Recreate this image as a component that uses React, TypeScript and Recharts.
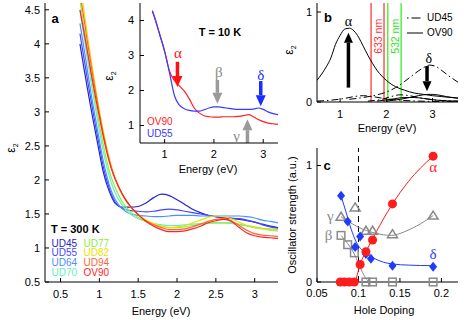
import React from 'react';
import {
  LineChart, ComposedChart, Line, Scatter, XAxis, YAxis,
  ReferenceLine, ReferenceDot, CartesianGrid,
} from 'recharts';

const FONT = '"Liberation Sans", Arial, Helvetica, sans-serif';
const SERIF = '"Liberation Serif", "DejaVu Serif", serif';

// ---------- Panel a : T = 300 K ----------
const energyA = [0.75, 0.8, 0.85, 0.9, 0.95, 1.0, 1.05, 1.1, 1.15, 1.2, 1.3, 1.4, 1.5, 1.6, 1.7, 1.8, 1.9, 2.0, 2.1, 2.2, 2.3, 2.4, 2.5, 2.6, 2.7, 2.8, 2.9, 3.0, 3.1, 3.2, 3.3];
const ud45 = [4.0, 3.65, 3.32, 3.0, 2.7, 2.4, 2.12, 1.92, 1.77, 1.66, 1.6, 1.6, 1.61, 1.66, 1.74, 1.79, 1.77, 1.71, 1.64, 1.57, 1.52, 1.48, 1.46, 1.44, 1.43, 1.42, 1.4, 1.38, 1.35, 1.32, 1.3];
const ud55 = [4.15, 3.8, 3.45, 3.12, 2.8, 2.5, 2.2, 1.98, 1.8, 1.68, 1.58, 1.55, 1.54, 1.53, 1.54, 1.56, 1.57, 1.56, 1.54, 1.52, 1.5, 1.48, 1.46, 1.45, 1.44, 1.43, 1.41, 1.38, 1.34, 1.31, 1.29];
const ud64 = [4.3, 3.95, 3.58, 3.22, 2.9, 2.58, 2.28, 2.04, 1.85, 1.72, 1.57, 1.5, 1.48, 1.47, 1.46, 1.46, 1.47, 1.48, 1.48, 1.48, 1.47, 1.47, 1.47, 1.47, 1.47, 1.47, 1.46, 1.44, 1.41, 1.39, 1.37];
const ud70 = [4.5, 4.12, 3.75, 3.38, 3.05, 2.72, 2.42, 2.17, 1.97, 1.82, 1.62, 1.5, 1.43, 1.39, 1.36, 1.34, 1.33, 1.33, 1.34, 1.35, 1.36, 1.37, 1.37, 1.37, 1.36, 1.34, 1.32, 1.3, 1.28, 1.26, 1.25];
const ud77 = [4.65, 4.25, 3.87, 3.5, 3.15, 2.82, 2.52, 2.26, 2.05, 1.9, 1.67, 1.53, 1.45, 1.39, 1.35, 1.32, 1.3, 1.3, 1.31, 1.33, 1.35, 1.36, 1.37, 1.37, 1.37, 1.35, 1.33, 1.31, 1.29, 1.28, 1.27];
const ud82 = [4.9, 4.5, 4.1, 3.72, 3.36, 3.02, 2.72, 2.45, 2.22, 2.04, 1.78, 1.6, 1.49, 1.41, 1.36, 1.32, 1.3, 1.31, 1.33, 1.37, 1.41, 1.45, 1.47, 1.46, 1.43, 1.38, 1.33, 1.3, 1.28, 1.27, 1.26];
const ud94 = [4.75, 4.38, 4.0, 3.64, 3.3, 2.98, 2.68, 2.42, 2.2, 2.03, 1.78, 1.61, 1.49, 1.4, 1.34, 1.3, 1.27, 1.27, 1.28, 1.31, 1.35, 1.39, 1.42, 1.43, 1.4, 1.33, 1.26, 1.21, 1.19, 1.18, 1.17];
const ov90 = [4.5, 4.18, 3.86, 3.53, 3.22, 2.93, 2.64, 2.39, 2.18, 2.02, 1.78, 1.61, 1.49, 1.39, 1.32, 1.27, 1.24, 1.24, 1.25, 1.28, 1.32, 1.37, 1.4, 1.42, 1.39, 1.3, 1.22, 1.18, 1.16, 1.15, 1.14];
const samplesA = [
  { key: 'UD45', values: ud45, color: '#2323cc' },
  { key: 'UD55', values: ud55, color: '#4646ff' },
  { key: 'UD64', values: ud64, color: '#4a90ff' },
  { key: 'UD70', values: ud70, color: '#66efc4' },
  { key: 'UD77', values: ud77, color: '#8cee44' },
  { key: 'UD82', values: ud82, color: '#eee000' },
  { key: 'UD94', values: ud94, color: '#ff6636' },
  { key: 'OV90', values: ov90, color: '#ff2424' },
];
const rowsA = energyA.map((x, i) => {
  const r: any = { x };
  samplesA.forEach((s) => { r[s.key] = s.values[i]; });
  return r;
});
const ticksAx = [0.5, 1, 1.5, 2, 2.5, 3];
const ticksAy = [0.5, 1, 1.5, 2, 2.5, 3, 3.5, 4, 4.5];

// ---------- Inset : T = 10 K ----------
const energyI = [0.75, 0.8, 0.9, 1.0, 1.1, 1.2, 1.3, 1.4, 1.5, 1.6, 1.7, 1.8, 1.9, 2.0, 2.1, 2.2, 2.3, 2.4, 2.5, 2.6, 2.7, 2.8, 2.9, 3.0, 3.1, 3.2, 3.3];
const ud55Cold = [4.28, 4.07, 3.6, 3.12, 2.5, 1.85, 1.58, 1.48, 1.43, 1.41, 1.41, 1.45, 1.5, 1.53, 1.53, 1.51, 1.49, 1.47, 1.46, 1.46, 1.46, 1.47, 1.5, 1.46, 1.39, 1.34, 1.31];
const ov90Cold = [4.28, 4.07, 3.6, 3.12, 2.55, 2.28, 2.13, 1.98, 1.76, 1.5, 1.36, 1.28, 1.25, 1.24, 1.24, 1.25, 1.25, 1.25, 1.26, 1.28, 1.31, 1.25, 1.17, 1.11, 1.07, 1.05, 1.03];
const rowsI = energyI.map((x, i) => ({ x, UD55: ud55Cold[i], OV90: ov90Cold[i] }));

// ---------- Panel b : oscillators ----------
const ov90AlphaX = [0.5, 0.6, 0.7, 0.8, 0.9, 1.0, 1.1, 1.2, 1.3, 1.4, 1.5, 1.6, 1.7, 1.8, 1.9, 2.0, 2.2, 2.4, 2.6, 2.8, 3.0, 3.2, 3.4, 3.55];
const ov90AlphaY = [0.24, 0.31, 0.39, 0.49, 0.64, 0.74, 0.81, 0.82, 0.79, 0.72, 0.62, 0.52, 0.43, 0.35, 0.29, 0.24, 0.17, 0.13, 0.1, 0.085, 0.07, 0.06, 0.05, 0.045];
const ov90GammaX = [1.8, 2.1, 2.4, 2.6, 2.8, 3.1, 3.55];
const ov90GammaY = [0.01, 0.03, 0.05, 0.05, 0.04, 0.02, 0.01];
const ov90DeltaX = [2.0, 2.3, 2.6, 2.8, 2.95, 3.1, 3.3, 3.55];
const ov90DeltaY = [0.01, 0.03, 0.06, 0.08, 0.085, 0.08, 0.06, 0.04];
const ud45BetaX = [0.5, 0.8, 1.1, 1.3, 1.5, 1.7, 2.0, 2.3, 2.7, 3.2, 3.55];
const ud45BetaY = [0.01, 0.02, 0.04, 0.06, 0.07, 0.06, 0.035, 0.02, 0.01, 0.005, 0.003];
const ud45GammaX = [1.6, 1.9, 2.1, 2.3, 2.5, 2.8, 3.1, 3.55];
const ud45GammaY = [0.01, 0.03, 0.06, 0.08, 0.07, 0.04, 0.02, 0.01];
const ud45DeltaX = [1.2, 1.5, 1.8, 2.0, 2.2, 2.4, 2.6, 2.8, 2.93, 3.05, 3.2, 3.35, 3.55];
const ud45DeltaY = [0.03, 0.05, 0.08, 0.11, 0.16, 0.23, 0.31, 0.38, 0.41, 0.4, 0.35, 0.29, 0.22];
const laserLines = [
  { e: 1.67, color: '#ff5555' },
  { e: 1.95, color: '#ff5555' },
  { e: 2.03, color: '#55f040' },
  { e: 2.32, color: '#55f040' },
];

// ---------- Panel c : oscillator strength vs hole doping ----------
const alphaP = [0.078, 0.083, 0.089, 0.095, 0.102, 0.109, 0.117, 0.141, 0.19];
const alphaS = [0, 0, 0, 0, 0.15, 0.26, 0.36, 0.67, 1.08];
const deltaP = [0.079, 0.087, 0.096, 0.102, 0.109, 0.115, 0.141, 0.19];
const deltaS = [0.74, 0.52, 0.3, 0.39, 0.24, 0.2, 0.14, 0.13];
const gammaP = [0.079, 0.096, 0.109, 0.117, 0.141, 0.19];
const gammaS = [0.56, 0.64, 0.44, 0.44, 0.41, 0.57];
const betaP = [0.079, 0.087, 0.095, 0.109, 0.117, 0.141, 0.19];
const betaS = [0.4, 0.32, 0.25, 0, 0, 0, 0];
const alphaFitP = [0.078, 0.095, 0.1, 0.102, 0.109, 0.117, 0.13, 0.141, 0.16, 0.175, 0.19];
const alphaFitS = [0, 0, 0.1, 0.15, 0.26, 0.37, 0.54, 0.67, 0.86, 0.98, 1.08];
const deltaFitP = [0.079, 0.085, 0.09, 0.095, 0.1, 0.105, 0.11, 0.117, 0.13, 0.141, 0.16, 0.19];
const deltaFitS = [0.74, 0.6, 0.48, 0.38, 0.31, 0.27, 0.24, 0.21, 0.17, 0.155, 0.145, 0.14];
const gammaFitP = [0.079, 0.09, 0.1, 0.11, 0.12, 0.13, 0.14, 0.155, 0.17, 0.19];
const gammaFitS = [0.56, 0.51, 0.47, 0.44, 0.42, 0.405, 0.4, 0.43, 0.48, 0.57];
const betaFitP = [0.079, 0.087, 0.095, 0.1, 0.105, 0.11, 0.113];
const betaFitS = [0.4, 0.33, 0.24, 0.16, 0.08, 0.02, 0];

const pts = (xs: number[], ys: number[]) => xs.map((x, i) => ({ x, y: ys[i] }));

const tickStyle = { fill: '#000', fontSize: 11, fontFamily: FONT };
const black = { stroke: '#000' };

const arrowShape = (color: string, w: number, headL: number, headW: number) => (p: any) => {
  const { x1, y1, x2, y2 } = p;
  const dir = Math.sign(y2 - y1) || 1;
  const yb = y2 - dir * headL;
  return (
    <g>
      <line x1={x1} y1={y1} x2={x2} y2={yb} stroke={color} strokeWidth={w} />
      <polygon points={`${x2 - headW / 2},${yb} ${x2 + headW / 2},${yb} ${x2},${y2}`} fill={color} />
    </g>
  );
};

const textShape = (txt: string, color: string, size: number, family = SERIF, rotate = 0) => (p: any) => (
  <text
    x={p.cx}
    y={p.cy}
    fill={color}
    fontSize={size}
    fontFamily={family}
    textAnchor="middle"
    dominantBaseline="central"
    transform={rotate ? `rotate(${rotate} ${p.cx} ${p.cy})` : undefined}
  >
    {txt}
  </text>
);

const circleShape = (p: any) => <circle cx={p.cx} cy={p.cy} r={4.5} fill="#ff1c1c" />;
const diamondShape = (p: any) => (
  <polygon points={`${p.cx},${p.cy - 5} ${p.cx + 4},${p.cy} ${p.cx},${p.cy + 5} ${p.cx - 4},${p.cy}`} fill="#1e3cff" />
);
const triShape = (p: any) => (
  <polygon points={`${p.cx},${p.cy - 4.5} ${p.cx + 5},${p.cy + 3.5} ${p.cx - 5},${p.cy + 3.5}`} fill="none" stroke="#8a8a8a" strokeWidth={1.5} />
);
const sqShape = (p: any) => (
  <rect x={p.cx - 3.8} y={p.cy - 3.8} width={7.6} height={7.6} fill="none" stroke="#8a8a8a" strokeWidth={1.5} />
);

const Txt = ({ x, y, children, size = 11, color = '#000', bold = false, rotate = 0, anchor = 'middle', family = FONT }: any) => (
  <div
    style={{
      position: 'absolute', left: x, top: y,
      transform: `translate(${anchor === 'middle' ? '-50%' : anchor === 'start' ? '0' : '-100%'},-50%) rotate(${rotate}deg)`,
      fontSize: size, color, fontWeight: bold ? 'bold' : 'normal', fontFamily: family,
      whiteSpace: 'nowrap', lineHeight: 1,
    }}
  >
    {children}
  </div>
);

const Eps = () => (<span>ε<sub style={{ fontSize: 7, verticalAlign: 'sub' }}>2</sub></span>);

export default function App() {
  return (
    <div style={{ position: 'absolute', left: 0, top: 0, width: 467, height: 320, background: '#fff', overflow: 'hidden', fontFamily: FONT }}>
      {/* Panel a */}
      <div style={{ position: 'absolute', left: 0, top: 0 }}>
        <LineChart width={290} height={320} data={rowsA} margin={{ top: 3, right: 12, bottom: 8, left: 5 }}>
          <XAxis dataKey="x" type="number" domain={[0.3, 3.3]} ticks={ticksAx} interval={0} allowDataOverflow height={30}
            tickSize={-4} tickMargin={12} tick={tickStyle} axisLine={black} tickLine={black} />
          <XAxis xAxisId="top" orientation="top" dataKey="x" type="number" domain={[0.3, 3.3]} ticks={ticksAx} interval={0} allowDataOverflow height={0}
            tickSize={-4} tick={false} axisLine={black} tickLine={black} />
          <YAxis type="number" domain={[0.5, 4.6]} ticks={ticksAy} interval={0} allowDataOverflow width={40}
            tickSize={-4} tickMargin={9} tick={tickStyle} axisLine={black} tickLine={black} />
          <YAxis yAxisId="right" orientation="right" type="number" domain={[0.5, 4.6]} ticks={ticksAy} interval={0} allowDataOverflow width={0}
            tickSize={-4} tick={false} axisLine={black} tickLine={black} />
          {samplesA.map((s) => (
            <Line key={s.key} dataKey={s.key} type="monotone" stroke={s.color} strokeWidth={1.2} dot={false} isAnimationActive={false} />
          ))}
        </LineChart>
      </div>

      {/* Inset of panel a */}
      <div style={{ position: 'absolute', left: 0, top: 0 }}>
        <LineChart width={290} height={180} data={rowsI} margin={{ top: 3, right: 12, bottom: 7, left: 100 }}>
          <CartesianGrid horizontal={false} vertical={false} fill="#fff" />
          <XAxis dataKey="x" type="number" domain={[0.5, 3.3]} ticks={[1, 2, 3]} interval={0} allowDataOverflow height={30}
            tickSize={-4} tickMargin={11} tick={tickStyle} axisLine={black} tickLine={black} />
          <XAxis xAxisId="top" orientation="top" dataKey="x" type="number" domain={[0.5, 3.3]} ticks={[1, 2, 3]} interval={0} allowDataOverflow height={0}
            tickSize={-4} tick={false} axisLine={black} tickLine={black} />
          <YAxis type="number" domain={[0.5, 4.5]} ticks={[1, 2, 3, 4]} interval={0} allowDataOverflow width={40}
            tickSize={-4} tickMargin={10} tick={tickStyle} axisLine={black} tickLine={black} />
          <YAxis yAxisId="right" orientation="right" type="number" domain={[0.5, 4.5]} ticks={[1, 2, 3, 4]} interval={0} allowDataOverflow width={0}
            tickSize={-4} tick={false} axisLine={black} tickLine={black} />
          <Line dataKey="OV90" type="monotone" stroke="#ff2020" strokeWidth={1.2} dot={false} isAnimationActive={false} />
          <Line dataKey="UD55" type="monotone" stroke="#3a3aff" strokeWidth={1.2} dot={false} isAnimationActive={false} />
          <ReferenceLine segment={[{ x: 1.26, y: 2.82 }, { x: 1.26, y: 2.1 }]} ifOverflow="visible" shape={arrowShape('#ff1010', 3.5, 11, 10)} />
          <ReferenceLine segment={[{ x: 2.07, y: 2.3 }, { x: 2.07, y: 1.62 }]} ifOverflow="visible" shape={arrowShape('#9a9a9a', 3.5, 11, 10)} />
          <ReferenceLine segment={[{ x: 2.95, y: 2.27 }, { x: 2.95, y: 1.55 }]} ifOverflow="visible" shape={arrowShape('#1a2cff', 3.5, 11, 10)} />
          <ReferenceLine segment={[{ x: 2.68, y: 0.5 }, { x: 2.68, y: 1.18 }]} ifOverflow="visible" shape={arrowShape('#9a9a9a', 3.5, 11, 10)} />
          <ReferenceDot x={1.27} y={3.06} r={0} ifOverflow="visible" shape={textShape('α', '#ff1010', 15)} />
          <ReferenceDot x={2.1} y={2.54} r={0} ifOverflow="visible" shape={textShape('β', '#8a8a8a', 15)} />
          <ReferenceDot x={2.95} y={2.44} r={0} ifOverflow="visible" shape={textShape('δ', '#1a2cff', 15)} />
          <ReferenceDot x={2.46} y={0.7} r={0} ifOverflow="visible" shape={textShape('γ', '#8a8a8a', 15)} />
        </LineChart>
      </div>

      {/* Panel b */}
      <div style={{ position: 'absolute', left: 290, top: 0 }}>
        <LineChart width={177} height={140} margin={{ top: 3, right: 9, bottom: 13, left: 7 }}>
          <XAxis dataKey="x" type="number" domain={[0.5, 3.55]} ticks={[1, 2, 3]} interval={0} allowDataOverflow height={25}
            tickSize={-4} tickMargin={12} tick={tickStyle} axisLine={black} tickLine={black} />
          <XAxis xAxisId="top" orientation="top" dataKey="x" type="number" domain={[0.5, 3.55]} ticks={[1, 2, 3]} interval={0} allowDataOverflow height={0}
            tickSize={-4} tick={false} axisLine={black} tickLine={black} />
          <YAxis dataKey="y" type="number" domain={[0, 1.1]} ticks={[0, 1]} interval={0} allowDataOverflow width={20}
            tickSize={-4} tickMargin={9} tick={tickStyle} axisLine={black} tickLine={black} />
          <YAxis yAxisId="right" orientation="right" type="number" domain={[0, 1.1]} ticks={[0, 1]} interval={0} allowDataOverflow width={0}
            tickSize={-4} tick={false} axisLine={black} tickLine={black} />
          {laserLines.map((l) => (
            <ReferenceLine key={l.e} x={l.e} stroke={l.color} strokeWidth={1.5} />
          ))}
          <Line data={pts(ov90AlphaX, ov90AlphaY)} dataKey="y" type="monotone" stroke="#000" strokeWidth={1} dot={false} isAnimationActive={false} />
          <Line data={pts(ov90GammaX, ov90GammaY)} dataKey="y" type="monotone" stroke="#000" strokeWidth={1} dot={false} isAnimationActive={false} />
          <Line data={pts(ov90DeltaX, ov90DeltaY)} dataKey="y" type="monotone" stroke="#000" strokeWidth={1} dot={false} isAnimationActive={false} />
          <Line data={pts(ud45BetaX, ud45BetaY)} dataKey="y" type="monotone" stroke="#000" strokeWidth={1} strokeDasharray="7 3 1.5 3" dot={false} isAnimationActive={false} />
          <Line data={pts(ud45GammaX, ud45GammaY)} dataKey="y" type="monotone" stroke="#000" strokeWidth={1} strokeDasharray="7 3 1.5 3" dot={false} isAnimationActive={false} />
          <Line data={pts(ud45DeltaX, ud45DeltaY)} dataKey="y" type="monotone" stroke="#000" strokeWidth={1} strokeDasharray="7 3 1.5 3" dot={false} isAnimationActive={false} />
          <ReferenceLine segment={[{ x: 1.18, y: 0.16 }, { x: 1.18, y: 0.77 }]} ifOverflow="visible" shape={arrowShape('#000', 3.5, 10, 9)} />
          <ReferenceLine segment={[{ x: 2.88, y: 0.4 }, { x: 2.88, y: 0.12 }]} ifOverflow="visible" shape={arrowShape('#000', 3.5, 10, 9)} />
          <ReferenceDot x={1.18} y={0.9} r={0} ifOverflow="visible" shape={textShape('α', '#000', 14)} />
          <ReferenceDot x={2.92} y={0.48} r={0} ifOverflow="visible" shape={textShape('δ', '#000', 14)} />
          <ReferenceDot x={1.81} y={0.73} r={0} ifOverflow="visible" shape={textShape('633 nm', '#ff3030', 10.5, FONT, -90)} />
          <ReferenceDot x={2.19} y={0.73} r={0} ifOverflow="visible" shape={textShape('532 nm', '#33dd22', 10.5, FONT, -90)} />
        </LineChart>
      </div>

      {/* Panel c */}
      <div style={{ position: 'absolute', left: 290, top: 140 }}>
        <ComposedChart width={177} height={180} margin={{ top: 8, right: 9, bottom: 13, left: 7 }}>
          <XAxis dataKey="x" type="number" domain={[0.05, 0.22]} ticks={[0.05, 0.1, 0.15, 0.2]} interval={0} height={25}
            tickSize={-4} tickMargin={11} tick={tickStyle} axisLine={black} tickLine={black} />
          <XAxis xAxisId="top" orientation="top" dataKey="x" type="number" domain={[0.05, 0.22]} ticks={[0.05, 0.1, 0.15, 0.2]} interval={0} height={0}
            tickSize={-4} tick={false} axisLine={black} tickLine={black} />
          <YAxis dataKey="y" type="number" domain={[0, 1.15]} ticks={[0, 1]} interval={0} width={20}
            tickSize={-4} tickMargin={9} tick={tickStyle} axisLine={black} tickLine={black} />
          <YAxis yAxisId="right" orientation="right" type="number" domain={[0, 1.15]} ticks={[0, 1]} interval={0} width={0}
            tickSize={-4} tick={false} axisLine={black} tickLine={black} />
          <ReferenceLine x={0.1} stroke="#000" strokeWidth={1} strokeDasharray="6 4" />
          <Line data={pts(gammaFitP, gammaFitS)} dataKey="y" type="monotone" stroke="#8a8a8a" strokeWidth={1} dot={false} isAnimationActive={false} />
          <Line data={pts(betaFitP, betaFitS)} dataKey="y" type="monotone" stroke="#8a8a8a" strokeWidth={1} dot={false} isAnimationActive={false} />
          <Line data={pts(deltaFitP, deltaFitS)} dataKey="y" type="monotone" stroke="#1e3cff" strokeWidth={1} dot={false} isAnimationActive={false} />
          <Line data={pts(alphaFitP, alphaFitS)} dataKey="y" type="monotone" stroke="#ff1c1c" strokeWidth={1} dot={false} isAnimationActive={false} />
          <Scatter data={pts(gammaP, gammaS)} dataKey="y" shape={triShape} isAnimationActive={false} />
          <Scatter data={pts(betaP, betaS)} dataKey="y" shape={sqShape} isAnimationActive={false} />
          <Scatter data={pts(deltaP, deltaS)} dataKey="y" shape={diamondShape} isAnimationActive={false} />
          <Scatter data={pts(alphaP, alphaS)} dataKey="y" shape={circleShape} isAnimationActive={false} />
          <ReferenceDot x={0.19} y={0.985} r={0} ifOverflow="visible" shape={textShape('α', '#ff1c1c', 15)} />
          <ReferenceDot x={0.19} y={0.24} r={0} ifOverflow="visible" shape={textShape('δ', '#1e3cff', 15)} />
          <ReferenceDot x={0.066} y={0.57} r={0} ifOverflow="visible" shape={textShape('γ', '#8a8a8a', 15)} />
          <ReferenceDot x={0.064} y={0.4} r={0} ifOverflow="visible" shape={textShape('β', '#8a8a8a', 15)} />
        </ComposedChart>
      </div>

      {/* Text overlays */}
      <Txt x={12} y={148} rotate={-90} size={12}><Eps /></Txt>
      <Txt x={161} y={311}>Energy (eV)</Txt>
      <Txt x={55} y={18} size={13} bold>a</Txt>
      <Txt x={51} y={229} size={11} bold anchor="start">T = 300 K</Txt>
      {samplesA.map((s, i) => (
        <Txt key={s.key} x={i < 4 ? 51.5 : 83.5} y={243.7 + (i % 4) * 9.7} size={10} color={s.color} anchor="start">{s.key}</Txt>
      ))}

      <Txt x={110} y={76} rotate={-90} size={12}><Eps /></Txt>
      <Txt x={208} y={169}>Energy (eV)</Txt>
      <Txt x={220} y={32} size={11} bold>T = 10 K</Txt>
      <Txt x={147} y={122} size={10} color="#ff2020" anchor="start">OV90</Txt>
      <Txt x={147} y={134} size={10} color="#3a3aff" anchor="start">UD55</Txt>

      <Txt x={290} y={50} rotate={-90} size={12}><Eps /></Txt>
      <Txt x={387} y={128}>Energy (eV)</Txt>
      <Txt x={328} y={17} size={13} bold>b</Txt>
      <svg style={{ position: 'absolute', left: 405, top: 10 }} width={22} height={30}>
        <line x1={2} y1={8} x2={18} y2={8} stroke="#000" strokeWidth={1} strokeDasharray="1.5 3 9 3" />
        <line x1={2} y1={23} x2={18} y2={23} stroke="#000" strokeWidth={1} />
      </svg>
      <Txt x={427} y={18} size={10} anchor="start">UD45</Txt>
      <Txt x={427} y={33} size={10} anchor="start">OV90</Txt>

      <Txt x={292} y={215} rotate={-90}>Oscillator strength (a.u.)</Txt>
      <Txt x={384} y={310}>Hole Doping</Txt>
      <Txt x={327} y={165} size={13} bold>c</Txt>
    </div>
  );
}
